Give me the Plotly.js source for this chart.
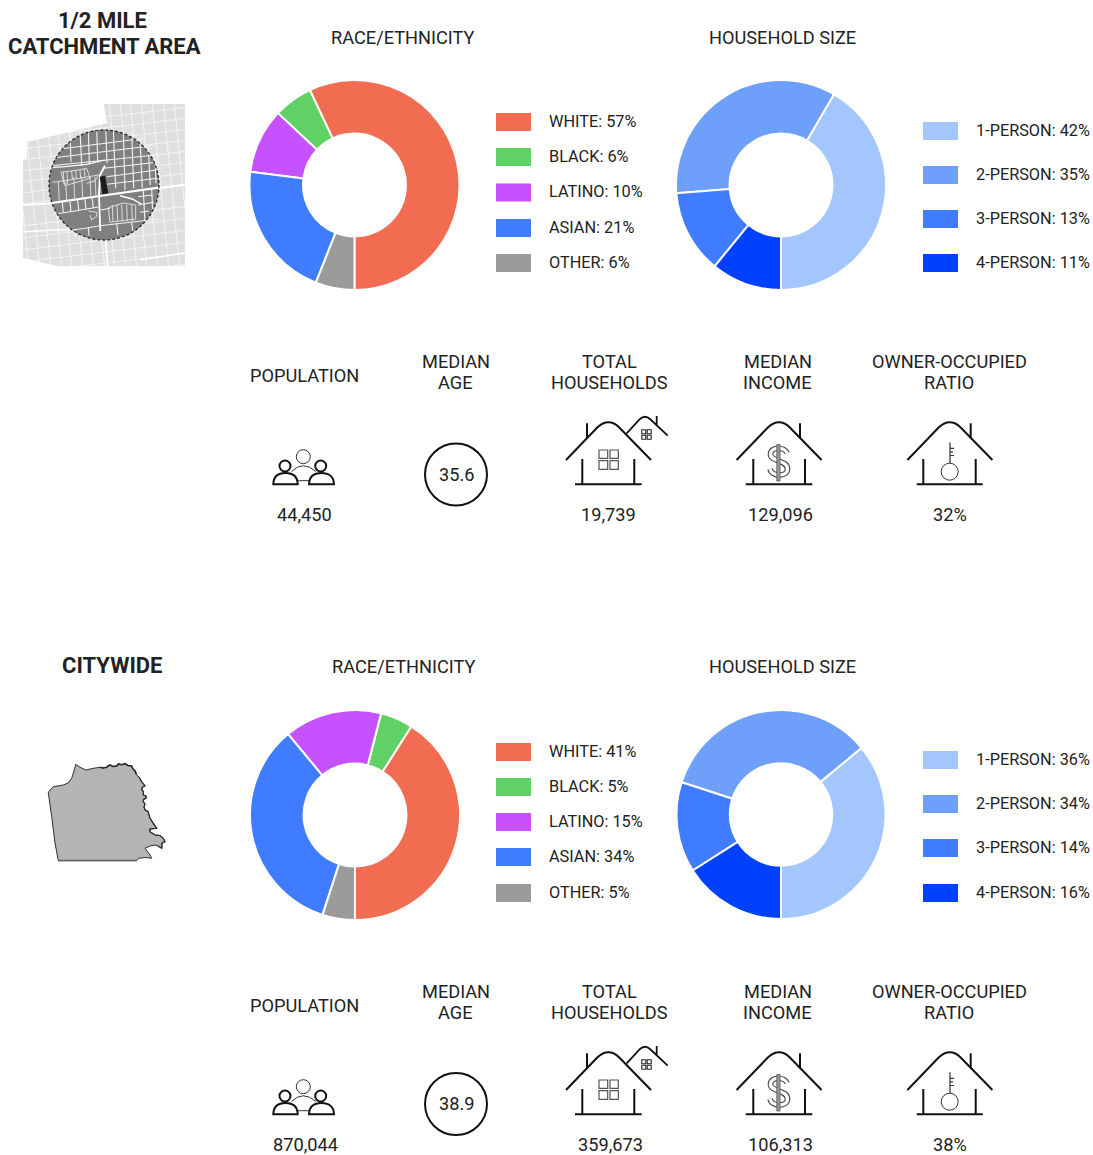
<!DOCTYPE html>
<html><head><meta charset="utf-8">
<script src="https://cdn.plot.ly/plotly-3.0.1.min.js"></script>
<style>html,body{margin:0;padding:0;background:#fff}#c{width:1093px;height:1155px}</style>
</head><body><div id="c"></div>
<script>
const W = 1093, H = 1155;
const raceLabels = ['WHITE','BLACK','LATINO','ASIAN','OTHER'];
const raceColors = ['#F16C50','#5FD165','#C651FF','#3F7CFF','#9B9B9B'];
const sizeLabels = ['1-PERSON','2-PERSON','3-PERSON','4-PERSON'];
const sizeColors = ['#A3C6FF','#6E9FFA','#3F7CFF','#0040FF'];
const raceCatchment = [57,6,10,21,6];
const sizeCatchment = [42,35,13,11];
const raceCity = [41,5,15,34,5];
const sizeCity = [36,34,14,16];
const statsCatchment = ['44,450','35.6','19,739','129,096','32%'];
const statsCity = ['870,044','38.9','359,673','106,313','38%'];
const sfOutline = [[75.7,764.3],[80,767.3],[86,770],[93.3,768.3],[100,767.3],[103,768],[106.7,767.3],[108,766],[110,765],[113,766.5],[116.7,766],[118.3,764],[121.7,764.7],[125,763.7],[128,765.5],[131.7,766],[133,769],[135,770.7],[136,773.5],[136.7,775],[139,777],[141.7,781.7],[145,786],[142.5,787],[141.7,790],[143.5,791.5],[143.3,795],[146,796],[146,798.3],[143.5,799.5],[143.3,801.7],[145,804],[144,807],[145,810],[148,811.5],[150,818.3],[153.3,823.3],[156.7,828.3],[150,829],[150,831.7],[155,835],[160,835.5],[163.3,838.3],[165,841.7],[162,843],[161.7,848.3],[158,846],[155,845],[150,846],[145,848.3],[147,851],[150,855],[151.7,858.3],[146,857.5],[138.3,858.3],[136.7,860.7],[58.3,860.7],[55,843],[51.7,816.7],[48.3,792.7],[50,790],[53.3,786.7],[63.3,785],[68,783],[71.7,778.3],[74,771]];

const FONT = 'Roboto, sans-serif', TXT = '#222';
const shapes = [], annotations = [];
function text(t,x,y,o={}){annotations.push({text:t,x,y:y-0.8,xref:'x',yref:'y',showarrow:false,xanchor:o.a||'center',yanchor:'middle',align:'center',
  font:{family:FONT,size:o.s||18.2,color:TXT,weight:o.w||400},borderpad:0});}
function path(p,w,c,fill,dash){shapes.push({type:'path',path:p,xref:'x',yref:'y',layer:'above',line:{color:c||'#111',width:w,dash:dash||'solid'},fillcolor:fill||'rgba(0,0,0,0)'});}
function rect(x0,y0,x1,y1,fill,lw,lc){shapes.push({type:'rect',x0,y0,x1,y1,xref:'x',yref:'y',layer:'above',fillcolor:fill||'rgba(0,0,0,0)',line:{width:lw||0,color:lc||fill||'#000'}});}
function circle(cx,cy,r,w,c,fill,dash){shapes.push({type:'circle',x0:cx-r,x1:cx+r,y0:cy-r,y1:cy+r,xref:'x',yref:'y',layer:'above',fillcolor:fill||'rgba(0,0,0,0)',line:{width:w,color:c||'#111',dash:dash||'solid'}});}

const traces = [{type:'scatter',x:[0],y:[0],mode:'none',showlegend:false,hoverinfo:'skip'}];
function donut(vals,labels,colors,cx,cy,r){
  const total = vals.reduce((a,b)=>a+b,0);
  traces.push({type:'pie',values:vals,labels,sort:false,direction:'counterclockwise',rotation:180-360*vals[0]/total,hole:0.49,textinfo:'none',hoverinfo:'skip',showlegend:false,
    marker:{colors,line:{color:'#fff',width:2}},
    domain:{x:[(cx-r)/W,(cx+r)/W],y:[1-(cy+r)/H,1-(cy-r)/H]}});
}
function legend(vals,labels,colors,sx,ys){
  vals.forEach((v,i)=>{rect(sx,ys[i]-9,sx+35,ys[i]+9,colors[i]);
    text(labels[i]+': '+v+'%',sx+51.5,ys[i],{a:'left',s:16.3});});
}
function houseBase(dx,dy,wl,wr,fl,fr){
  const yT=422.3+dy, yE=460+dy;
  path(`M${566+dx},${yE}L${597.5+dx},${yT+5}C${602+dx},${yT+0.8} ${605+dx},${yT} ${608.3+dx},${yT}C${611.6+dx},${yT} ${615+dx},${yT+0.8} ${619+dx},${yT+5}L${651+dx},${yE}`,2,'#111');
  path(`M${wl},${459+dy}V${484.3+dy}M${wr},${459+dy}V${484.3+dy}M${fl},${484.3+dy}H${fr}`,2,'#111');
}
function statsRow(dy,vals){
  const L1=362+dy, L2=383.5+dy;
  text('POPULATION',304.7,376.5+dy);
  text('MEDIAN',455.7,L1); text('AGE',455.7,L2);
  text('TOTAL',609.7,L1); text('HOUSEHOLDS',609.7,L2);
  text('MEDIAN',777.7,L1); text('INCOME',777.7,L2);
  text('OWNER-OCCUPIED',949.2,L1); text('RATIO',949.2,L2);
  const ofs = dy?1:0;
  text(vals[0],304.7+ofs,515.5+dy);
  text(vals[1],456,475+dy-ofs);
  text(vals[2],608.5+ofs*1.5,515.5+dy);
  text(vals[3],780,515.5+dy);
  text(vals[4],949.7,515.5+dy);
  // people
  circle(303.3,456.7+dy,7,1,'#333');
  circle(285,466+dy,5.5,2,'#111'); circle(320.7,466+dy,5.5,2,'#111');
  path(`M273.3,${484.3+dy}C273.5,${476+dy} 279,${473+dy} 285.5,${473+dy}C292,${473+dy} 297.5,${476+dy} 297.7,${484.3+dy}Z`,2,'#111');
  path(`M309,${484.3+dy}C309.3,${476+dy} 315,${473+dy} 321.5,${473+dy}C328,${473+dy} 333.8,${476+dy} 334,${484.3+dy}Z`,2,'#111');
  path(`M291.5,${471.5+dy}Q303,${460+dy} 316,${471.5+dy}M297.7,${480.7+dy}H309`,1,'#333');
  // age
  circle(456,474.5+dy-ofs*0.5,31,2,'#111');
  // households house
  houseBase(0,dy,582.3,634.3,575,641.7);
  path(`M587,${423.3+dy}V${438.3+dy}`,2,'#111');
  [[599,607.7],[610,618.3]].forEach(a=>[[450,458.3],[460.7,469.3]].forEach(b=>rect(a[0],b[0]+dy,a[1],b[1]+dy,null,1.2,'#555')));
  path(`M626.7,${433.3+dy}L640,${419+dy}Q645,${414.5+dy} 650,${419+dy}L667.7,${435.7+dy}M656.7,${416+dy}V${425+dy}`,1.8,'#111');
  [[641.8,645.8],[647.2,651.2]].forEach(a=>[[429.8,433.8],[435.2,439.2]].forEach(b=>rect(a[0],b[0]+dy,a[1],b[1]+dy,null,1.1,'#222')));
  // income house
  houseBase(170.6,dy,753.3,805,745.7,812.3);
  path(`M800,${423.3+dy}V${438.3+dy}`,2,'#111');
  const S=`M787,${453+dy}C785,${447+dy} 771,${446+dy} 770.5,${454+dy}C770,${462+dy} 787.5,${459.5+dy} 787.5,${469+dy}C787.5,${477+dy} 772,${477+dy} 770,${469+dy}`;
  path(S,5.6,'#444'); path(S,3.4,'#fff');
  path(`M776.8,${444.5+dy}H780V${481+dy}H776.8Z`,0.8,'#555','#999');
  // owner house
  houseBase(341.4,dy,923.3,975.7,916.7,982.7);
  path(`M970.7,${423.3+dy}V${438.3+dy}`,2,'#111');
  path(`M950,${442.3+dy}V${463.3+dy}M950,${448.3+dy}H954M950,${451.8+dy}H953M950,${455.5+dy}H954`,1.2,'#333');
  circle(949.7,471.7+dy,8.5,1,'#333');
}

// catchment section
text('1/2 MILE',102,21,{s:22,w:700});
text('CATCHMENT AREA',104,47,{s:22,w:700});
text('RACE/ETHNICITY',402.5,38); text('HOUSEHOLD SIZE',782,38);
donut(raceCatchment,raceLabels,raceColors,354.5,185,105);
donut(sizeCatchment,sizeLabels,sizeColors,781,185,105);
legend(raceCatchment,raceLabels,raceColors,496,[122,157,192.5,228,263]);
legend(sizeCatchment,sizeLabels,sizeColors,923,[131,175,219,263]);
statsRow(0,statsCatchment);

// city section
text('CITYWIDE',112,666.5,{s:22,w:700});
text('RACE/ETHNICITY',403,667); text('HOUSEHOLD SIZE',782,667);
donut(raceCity,raceLabels,raceColors,355,815,105);
donut(sizeCity,sizeLabels,sizeColors,781,814.5,104.5);
legend(raceCity,raceLabels,raceColors,496,[752,787,822,857,893]);
legend(sizeCity,sizeLabels,sizeColors,923,[760,804,848,893]);
statsRow(630,statsCity);

// neighbourhood map (decoration)
const CX=104, CY=185, TH=0.12, TV=0.1;
function z(x,y){return (x/3+45).toFixed(1)+','+(y/3+125).toFixed(1);}          // zoom-crop coordinates to page
function zp(pts){return pts.map((p,i)=>(i?'L':'M')+z(p[0],p[1])).join('');}
function boxLine(x0,y0,x1,y1){ // trim a line to the map's bounding box
  const bx0=23,bx1=185,by0=104,by1=266; let t0=0,t1=1; const dx=x1-x0,dy=y1-y0;
  [[-dx,x0-bx0],[dx,bx1-x0],[-dy,y0-by0],[dy,by1-y0]].forEach(([p,q])=>{
    if(p===0){ if(q<0) t1=-1; return; } const r=q/p; if(p<0) t0=Math.max(t0,r); else t1=Math.min(t1,r);});
  if(t0>=t1) return null;
  return `M${(x0+t0*dx).toFixed(1)},${(y0+t0*dy).toFixed(1)}L${(x0+t1*dx).toFixed(1)},${(y0+t1*dy).toFixed(1)}`;
}
function bgLine(x0,y0,x1,y1,w,c){const p=boxLine(x0,y0,x1,y1); if(p) path(p,w,c);}
rect(23,104,185,266,'#dfdfdf');
const bgV=[12,23,34,45,55,66,77,88,98,109,120,130,141,152,163,174];
const bgH=[117,128,139,150,161,172,183,194,216,228,240,252,263,274,285];
bgV.forEach(x=>bgLine(x,100,x+TV*170,270,0.9,'#f6f6f6'));
bgH.forEach(y=>bgLine(20,y+TH*85,190,y-TH*85,0.9,'#f6f6f6'));
bgLine(20,205,50,203.5,2.2,'#fff');bgLine(50,203.5,104,196,2.2,'#fff');bgLine(104,196,190,184,2.2,'#fff');
bgLine(102,196,108,270,1.8,'#fff');
bgLine(20,232,75,229,1.5,'#fff');bgLine(140,260,190,252,1.5,'#fff');
// white masks shaping the map outline
path('M20,100H103L107,123L27,142V158L23,160V162H20Z',0,'#fff','#fff');
path('M20,258H23L57,266V268H20Z',0,'#fff','#fff');

circle(CX,CY,55,0,'#808080','#808080');
const LC='#f4f4f4', LW=1.1;
// upper grid
[[75,22,78,110],[105,12,110,122],[130,10,133,118],[155,8,158,112],[182,8,186,115],[205,12,212,190],[235,18,240,195],[260,25,266,190],[285,42,292,188],[310,68,316,180],[330,95,333,175],
 [295,195,300,295],[320,190,323,265]].forEach(a=>path(zp([[a[0],a[1]],[a[2],a[3]]]),LW,LC));
[[45,72,300,40],[28,98,322,62],[18,122,332,90],[175,130,336,112],[185,155,336,135],[185,178,338,160]].forEach(a=>path(zp([[a[0],a[1]],[a[2],a[3]]]),LW,LC));
// left-hand crescent streets
path(zp([[14,128],[60,125],[125,118],[180,105]]),1.2,'#fff');
path(zp([[180,122],[165,150],[162,212]]),2,'#fff');
path(zp([[48,142],[100,135],[125,130],[135,160],[60,182],[48,142]]),0.9,'#e6e6e6');
[[55,140],[66,139],[80,137],[92,136],[105,134],[118,132]].forEach(p=>path(zp([[p[0],p[1]],[p[0]+2,p[1]+(p[0]<80?38:26)]]),0.9,'#e6e6e6'));
path(zp([[22,172],[75,165],[160,150]]),0.9,'#e6e6e6');
[40,62,86,110,135,150].forEach(x=>path(zp([[x,x<80?170:155],[x+3,232-x*0.12]]),0.9,'#e6e6e6'));
path(zp([[125,175],[150,168],[160,150]]),0.9,'#e6e6e6');
// main road
path(zp([[12,235],[165,213],[340,188]]),2.2,'#fff');
// lower left
path(zp([[162,213],[166,318]]),1.8,'#fff');
path(zp([[26,268],[90,258],[160,246]]),LW,LC);
[[52,232],[75,230],[98,226],[120,223],[142,220]].forEach(p=>path(zp([[p[0],p[1]],[p[0]+3,p[1]+30]]),LW,LC));
path(zp([[130,258],[155,262],[155,274],[140,285],[135,270]]),0.9,'#e6e6e6');
path(zp([[60,318],[120,310],[165,302],[340,282]]),LW,LC);
[[90,312],[130,306]].forEach(p=>path(zp([[p[0],p[1]],[p[0]+2,p[1]+26]]),LW,LC));
// lower right
path(zp([[225,212],[262,222],[290,238]]),1.4,'#fff');
path(zp([[190,248],[235,234],[272,240],[272,282],[195,292],[190,248]]),0.9,'#e6e6e6');
[202,216,230,245,260].forEach(x=>path(zp([[x,240],[x+2,288]]),0.9,'#e6e6e6'));
[[168,255,195,250],[280,215,322,210],[280,240,326,232],[285,262,312,258]].forEach(a=>path(zp([[a[0],a[1]],[a[2],a[3]]]),LW,LC));
[[215,295,219,330],[260,292,264,325]].forEach(a=>path(zp([[a[0],a[1]],[a[2],a[3]]]),LW,LC));
circle(CX,CY,55,1.3,'#2a2a2a',null,'3px,2px');
path('M'+z(164,155)+'L'+z(180,152)+'L'+z(190,205)+'L'+z(172,208)+'Z',0,'#1a1a1a','#1a1a1a');

// San Francisco silhouette (decoration)
path(sfOutline.map((p,i)=>(i?'L':'M')+p[0]+','+p[1]).join('')+'Z',1,'#2f2f2f','#B3B4B6');
path(sfOutline.slice(4,20).map((p,i)=>(i?'L':'M')+p[0]+','+p[1]).join(''),1.6,'#2a2a2a');
path(sfOutline.slice(20,47).map((p,i)=>(i?'L':'M')+p[0]+','+p[1]).join(''),1.2,'#2a2a2a');
path('M58.3,860.5H137',1.6,'#666');

const layout = {width:W,height:H,margin:{l:0,r:0,t:0,b:0},paper_bgcolor:'#fff',plot_bgcolor:'rgba(0,0,0,0)',showlegend:false,
  xaxis:{range:[0,W],visible:false,fixedrange:true},yaxis:{range:[H,0],visible:false,fixedrange:true},
  shapes,annotations,font:{family:FONT}};
Plotly.newPlot('c',traces,layout,{staticPlot:true,displayModeBar:false});
</script></body></html>
